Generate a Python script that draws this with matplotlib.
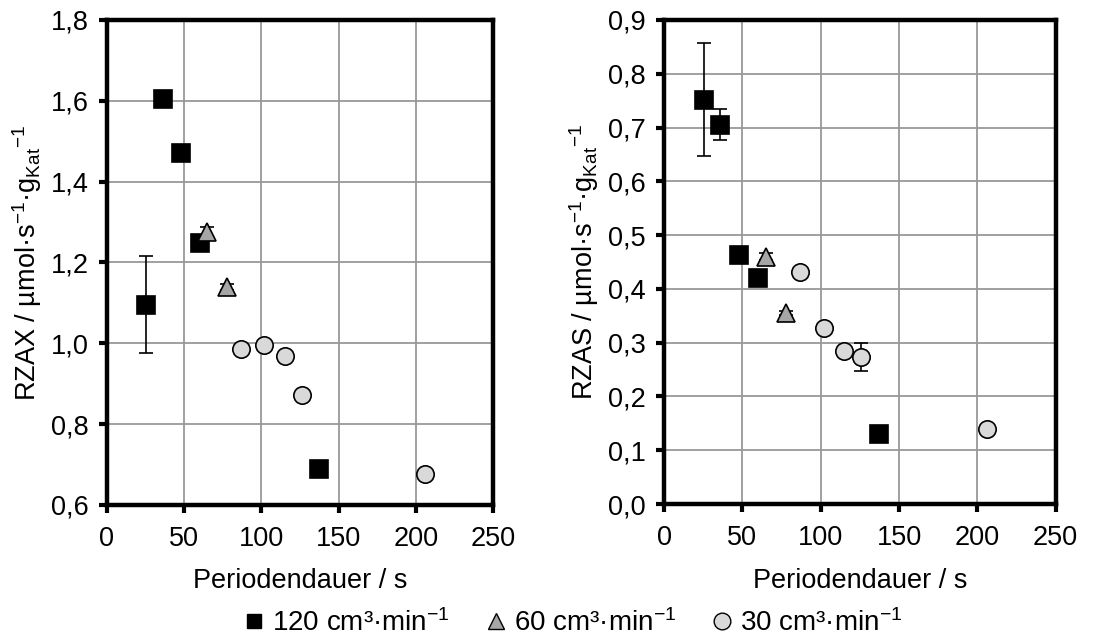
import matplotlib
matplotlib.use("Agg")
import matplotlib.pyplot as plt
from matplotlib.lines import Line2D

plt.rcParams['font.family'] = ['Liberation Sans', 'DejaVu Sans']
plt.rcParams['mathtext.fontset'] = 'custom'
plt.rcParams['mathtext.rm'] = 'Liberation Sans'
plt.rcParams['mathtext.it'] = 'Liberation Sans:italic'
plt.rcParams['mathtext.default'] = 'regular'

# Period durations (s) per feed flow rate
x_120 = [25.5, 36, 48, 60, 137]
x_60 = [65, 78]
x_30 = [86.5, 102, 115, 126, 206]

# RZAX values
rzax_120 = [1.095, 1.604, 1.470, 1.249, 0.690]
rzax_120_err = [0.12, 0.0, 0.0, 0.0, 0.0]
rzax_60 = [1.275, 1.140]
rzax_60_err = [0.012, 0.008]
rzax_30 = [0.987, 0.997, 0.969, 0.871, 0.677]
rzax_30_err = [0.0, 0.0, 0.0, 0.0, 0.0]

# RZAS values
rzas_120 = [0.752, 0.705, 0.463, 0.421, 0.131]
rzas_120_err = [0.105, 0.029, 0.0, 0.0, 0.0]
rzas_60 = [0.460, 0.355]
rzas_60_err = [0.006, 0.004]
rzas_30 = [0.432, 0.327, 0.285, 0.273, 0.139]
rzas_30_err = [0.0, 0.0, 0.0, 0.026, 0.0]

series_labels = ['120 cm³·min$^{−1}$', '60 cm³·min$^{−1}$', '30 cm³·min$^{−1}$']

x_ticks = [0, 50, 100, 150, 200, 250]
left_yticks = [0.6, 0.8, 1.0, 1.2, 1.4, 1.6, 1.8]
right_yticks = [0.0, 0.1, 0.2, 0.3, 0.4, 0.5, 0.6, 0.7, 0.8, 0.9]

FS = 19.5
LEG_FS = 20

fig = plt.figure(figsize=(11.19, 6.41), dpi=100)
ax1 = fig.add_axes([0.0956, 0.2122, 0.345, 0.7566])
ax2 = fig.add_axes([0.5934, 0.2137, 0.350, 0.7551])

styles = [
    dict(marker='s', color='black', ms=13.5, mfc='black', mec='black'),
    dict(marker='^', color='black', ms=12.5, mfc='#A6A6A6', mec='black'),
    dict(marker='o', color='black', ms=12.5, mfc='#D9D9D9', mec='black'),
]
legend_ms = [9.5, 11, 12]


def draw(ax, ys, errs, yticks, ylabel):
    xs = [x_120, x_60, x_30]
    for x, y, e, st, lab in zip(xs, ys, errs, styles, series_labels):
        ax.errorbar(x, y, yerr=e, ls='none', elinewidth=1.2, capsize=5,
                    capthick=1.2, mew=1.2, zorder=3, label=lab, **st)
    ax.set_xlim(0, 250)
    ax.set_ylim(yticks[0], yticks[-1])
    ax.set_xticks(x_ticks)
    ax.set_yticks(yticks)
    ax.set_xticklabels([str(v) for v in x_ticks])
    ax.set_yticklabels([f'{v:.1f}'.replace('.', ',') for v in yticks])
    ax.grid(True, color='#999999', lw=1.3)
    ax.set_axisbelow(True)
    for s in ax.spines.values():
        s.set_linewidth(3.2)
        s.set_color('black')
    ax.tick_params(axis='both', direction='out', length=6, width=3,
                   labelsize=FS, colors='black')
    ax.tick_params(axis='x', pad=9)
    ax.tick_params(axis='y', pad=7)
    ax.set_xlabel('Periodendauer / s', fontsize=FS, labelpad=12)
    ax.set_ylabel(ylabel, fontsize=FS, labelpad=5)


draw(ax1, [rzax_120, rzax_60, rzax_30],
     [rzax_120_err, rzax_60_err, rzax_30_err], left_yticks,
     r'RZAX / µmol·s$^{−1}$·g$_{\mathrm{Kat}}$$^{−1}$')
draw(ax2, [rzas_120, rzas_60, rzas_30],
     [rzas_120_err, rzas_60_err, rzas_30_err], right_yticks,
     r'RZAS / µmol·s$^{−1}$·g$_{\mathrm{Kat}}$$^{−1}$')

leg_handles = [Line2D([], [], ls='none', marker=st['marker'], ms=m,
                      mfc=st['mfc'], mec='black', mew=1.0)
               for st, m in zip(styles, legend_ms)]
fig.legend(leg_handles, series_labels, loc='center', ncol=3,
           bbox_to_anchor=(0.513, 0.028), frameon=False, fontsize=LEG_FS,
           handlelength=0.6, handletextpad=0.35, columnspacing=1.35,
           borderpad=0.1)

fig.savefig('out.png', dpi=100)
